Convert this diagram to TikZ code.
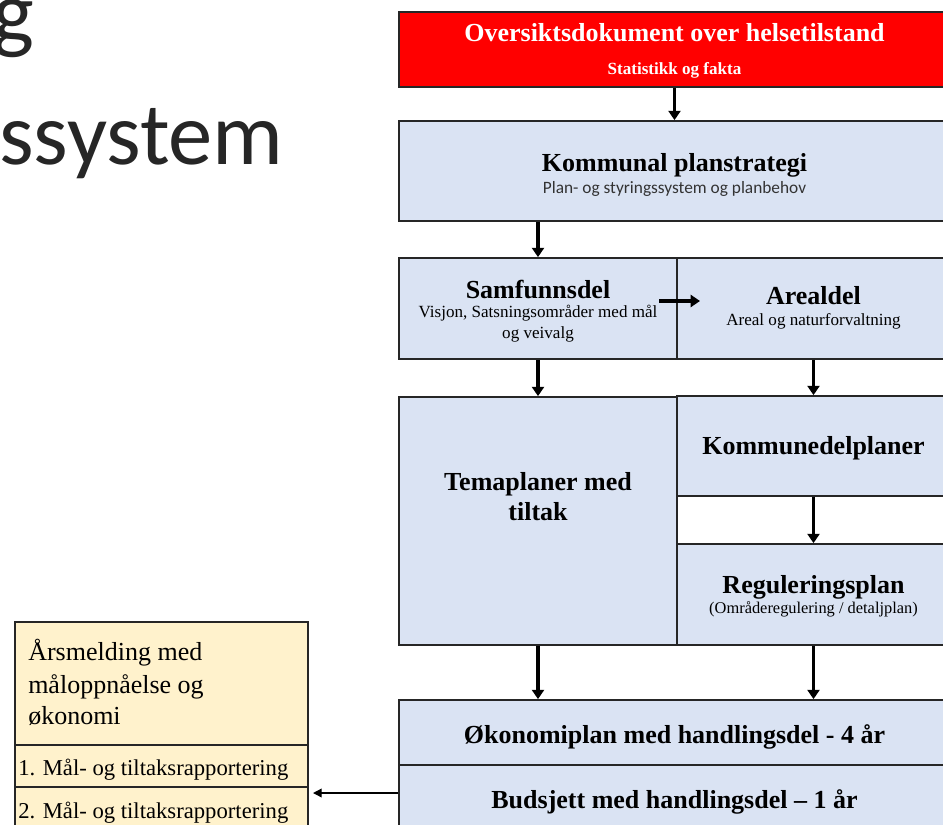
\documentclass[tikz,border=0pt]{standalone}
\usepackage{fontspec}
\setmainfont{Liberation Serif}
\newfontfamily\calfont{Carlito}
\usetikzlibrary{arrows.meta,fit,calc}
\definecolor{boxblue}{HTML}{DAE3F3}
\definecolor{boxcream}{HTML}{FFF2CC}
\definecolor{boxred}{HTML}{FF0000}
\definecolor{edge}{HTML}{262626}
\begin{document}
\begin{tikzpicture}[x=0.75pt,y=-0.75pt,
  box/.style={draw=edge,line width=1.3pt,inner sep=0pt},
  hd/.style={font=\bfseries\fontsize{19.5}{22}\selectfont,inner sep=0pt,anchor=base},
  sb/.style={font=\fontsize{12.8}{14}\selectfont,inner sep=0pt,anchor=base},
  sbc/.style={font=\calfont\fontsize{13}{15}\selectfont,text=black!80,inner sep=0pt,anchor=base},
  ars/.style={font=\fontsize{19.5}{22}\selectfont,inner sep=0pt,anchor=base west},
  rowt/.style={font=\fontsize{17}{20}\selectfont,inner sep=0pt,anchor=base west},
  ttl/.style={font=\calfont\fontsize{66.5}{72}\selectfont,text=black!85,inner sep=0pt},
  arr/.style={draw=black,line width=2.4pt,-{Triangle[length=7pt,width=9pt]}},
  arrthin/.style={draw=black,line width=1pt,-{Triangle[length=6.5pt,width=6.5pt]}}]
\useasboundingbox (0,0) rectangle (943,825);
\clip (0,0) rectangle (943,825);
\fill[white] (0,0) rectangle (943,825);

% slide title fragments
\node[ttl,anchor=base east] (tg) at (35,42) {g};
\node[ttl,anchor=base west] (ts) at (-1,164) {ssystem};

% boxes
\node[box,fill=boxred,fit={(399,12)(950,87)}] (red) {};
\node[box,fill=boxblue,fit={(399,121)(950,221)}] (kp) {};
\node[box,fill=boxblue,fit={(399,258)(677,359)}] (sam) {};
\node[box,fill=boxblue,fit={(677,258)(950,359)}] (are) {};
\node[box,fill=boxblue,fit={(399,397)(677,645)}] (tema) {};
\node[box,fill=boxblue,fit={(677,396)(950,496)}] (kdp) {};
\node[box,fill=boxblue,fit={(677,544)(950,645)}] (reg) {};
\node[box,fill=boxblue,fit={(399,700)(950,765)}] (oko) {};
\node[box,fill=boxblue,fit={(399,765)(950,880)}] (bud) {};
\node[box,fill=boxcream,fit={(15,622)(308,745)}] (arsb) {};
\node[box,fill=boxcream,fit={(15,745)(308,787)}] (r1) {};
\node[box,fill=boxcream,fit={(15,787)(308,880)}] (r2) {};

% texts
\node[hd,text=white] (t1) at (674.5,41) {Oversiktsdokument over helsetilstand};
\node[sb,text=white,font=\bfseries\fontsize{12.8}{14}\selectfont] (t1b) at (674.5,74) {Statistikk og fakta};
\node[hd] (t2) at (674.5,171) {Kommunal planstrategi};
\node[sbc] (t2b) at (674.5,193) {Plan- og styringssystem og planbehov};
\node[hd] (t3) at (538,298) {Samfunnsdel};
\node[sb] (t3b) at (538,317) {Visjon, Satsningsområder med mål};
\node[sb] (t3c) at (538,338) {og veivalg};
\node[hd] (t4) at (813.5,304) {Arealdel};
\node[sb] (t4b) at (813.5,325) {Areal og naturforvaltning};
\node[hd] (t5) at (538,490) {Temaplaner med};
\node[hd] (t5b) at (538,520) {tiltak};
\node[hd] (t6) at (813.5,454) {Kommunedelplaner};
\node[hd] (t7) at (813.5,593) {Reguleringsplan};
\node[sb,font=\fontsize{12.3}{14}\selectfont] (t7b) at (813.5,613) {(Områderegulering / detaljplan)};
\node[hd] (t8) at (674.5,743) {Økonomiplan med handlingsdel - 4 år};
\node[hd] (t9) at (674.5,808) {Budsjett med handlingsdel – 1 år};
\node[ars] (a1) at (28,660) {Årsmelding med};
\node[ars] (a2) at (28,693) {måloppnåelse og};
\node[ars] (a3) at (28,724) {økonomi};
\node[rowt] (r1t) at (18,775) {1. Mål- og tiltaksrapportering};
\node[rowt] (r2t) at (18,818) {2. Mål- og tiltaksrapportering};

% connectors
\draw[arr] (red.south) -- (kp.north);
\draw[arr] (kp.south -| sam.north) -- (sam.north);
\coordinate (h1) at (659,301);
\coordinate (h2) at (700,301);
\draw[arr] (h1) -- (h2);
\draw[arr] (sam.south) -- (tema.north);
\draw[arr] (are.south) -- (kdp.north);
\draw[arr] (kdp.south) -- (reg.north);
\draw[arr] (tema.south) -- (oko.north -| tema.south);
\draw[arr] (reg.south) -- (oko.north -| reg.south);
\coordinate (ab) at (313,793);
\draw[arrthin] (bud.west |- ab) -- (ab);
\end{tikzpicture}
\end{document}
